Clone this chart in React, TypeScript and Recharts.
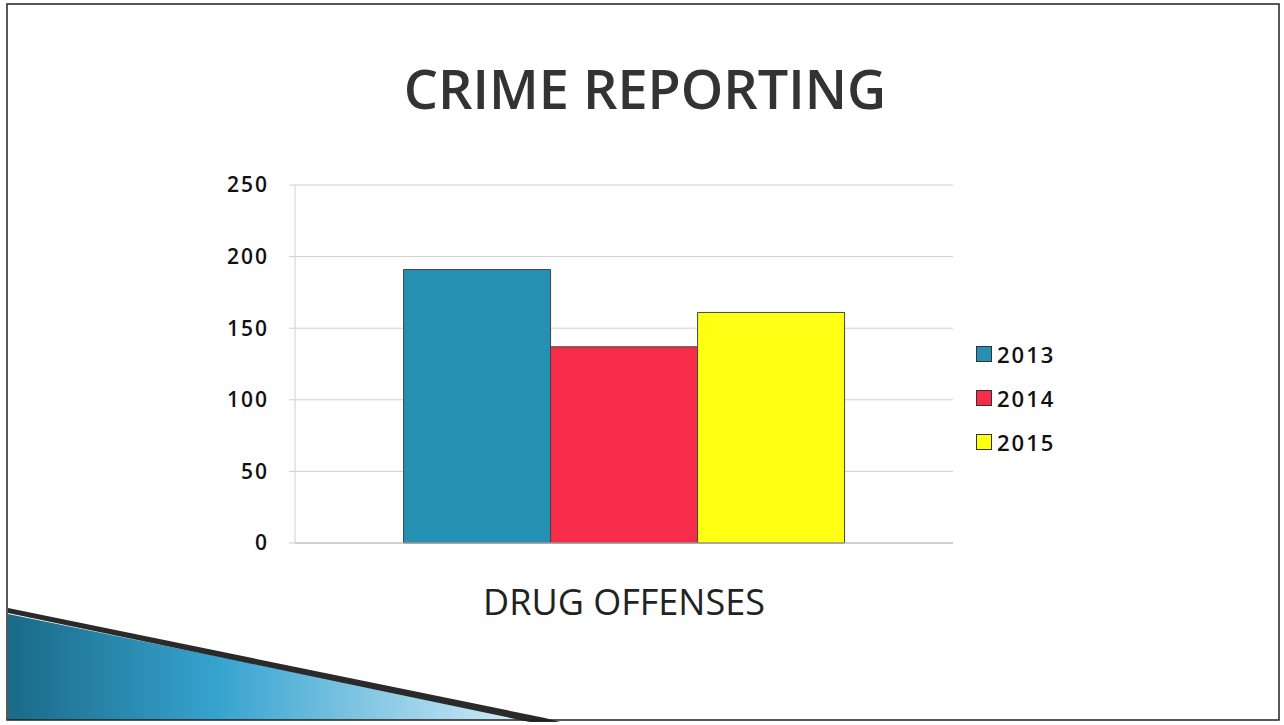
import { BarChart, Bar, XAxis, YAxis, CartesianGrid } from "recharts";

const categories = ["DRUG OFFENSES"];
const years = ["2013", "2014", "2015"];
const values2013 = [191];
const values2014 = [137];
const values2015 = [161];
const yTicks = [0, 50, 100, 150, 200, 250];
const colors = ["#2690b3", "#f72c48", "#ffff14"];

const data = categories.map((name, i) => ({
  name,
  "2013": values2013[i],
  "2014": values2014[i],
  "2015": values2015[i],
}));

const FONT = "'Open Sans', 'DejaVu Sans', sans-serif";

// legend on the right, one square + year per row
function YearLegend() {
  return (
    <div style={{ position: "absolute", left: 976, top: 332, fontFamily: FONT }}>
      {years.map((y, i) => (
        <div key={y} style={{ display: "flex", alignItems: "center", height: 44 }}>
          <span
            style={{
              width: 14,
              height: 14,
              background: colors[i],
              border: "1px solid #333",
              marginRight: 5,
            }}
          />
          <span style={{ fontSize: 22, fontWeight: 600, color: "#111", letterSpacing: 2 }}>{y}</span>
        </div>
      ))}
    </div>
  );
}

export default function App() {
  return (
    <div
      style={{
        position: "absolute",
        left: 0,
        top: 0,
        width: 1284,
        height: 725,
        background: "#fff",
        overflow: "hidden",
      }}
    >
      {/* slide decoration */}
      <svg width={1284} height={725} style={{ position: "absolute", left: 0, top: 0 }}>
        <defs>
          <linearGradient id="swoosh" x1="0" y1="0" x2="1" y2="0">
            <stop offset="0" stopColor="#1a6a88" />
            <stop offset="0.4" stopColor="#36a3cf" />
            <stop offset="1" stopColor="#d6eef8" />
          </linearGradient>
        </defs>
        <polygon points="8,614 530,720 8,720" fill="url(#swoosh)" />
        <polygon points="8,608 545,718 560,722 530,722 8,613" fill="#2a2a2a" />
        <rect x={7} y={4} width={1272} height={716} fill="none" stroke="#222" strokeWidth={1.5} />
      </svg>
      <div
        style={{
          position: "absolute",
          left: 0,
          top: 51,
          width: 1290,
          textAlign: "center",
          fontFamily: FONT,
          fontSize: 54,
          fontWeight: 600,
          color: "#333",
        }}
      >
        CRIME REPORTING
      </div>
      <BarChart
        width={1284}
        height={725}
        data={data}
        margin={{ top: 185, right: 331, bottom: 112, left: 235 }}
        barCategoryGap="16.5%"
        barGap={0}
        style={{ position: "absolute", left: 0, top: 0 }}
      >
        <CartesianGrid horizontal vertical={false} stroke="#d0d0d0" />
        <XAxis
          dataKey="name"
          height={70}
          axisLine={{ stroke: "#bbb" }}
          tickLine={false}
          tickMargin={40}
          tick={{ fontFamily: FONT, fontSize: 36, fill: "#222" }}
        />
        <YAxis
          width={60}
          domain={[0, 250]}
          ticks={yTicks}
          axisLine={{ stroke: "#d0d0d0" }}
          tickLine={{ stroke: "#d0d0d0" }}
          tickSize={6}
          tickMargin={20}
          tick={{ fontFamily: FONT, fontSize: 21, fontWeight: 600, fill: "#111", letterSpacing: 2 }}
        />
        {years.map((y, i) => (
          <Bar key={y} dataKey={y} fill={colors[i]} stroke="#444" strokeWidth={1} isAnimationActive={false} />
        ))}
      </BarChart>
      <YearLegend />
    </div>
  );
}
